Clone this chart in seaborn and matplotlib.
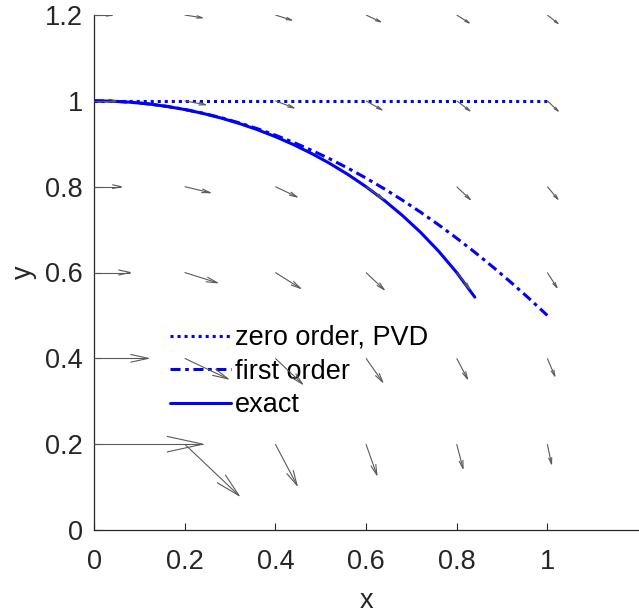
import numpy as np
import pandas as pd
import matplotlib
matplotlib.use('Agg')
import matplotlib.pyplot as plt
from matplotlib.collections import LineCollection
import seaborn as sns

# direction field grid (arrow components in data units, as drawn)
grid_x = [0.0, 0.2, 0.4, 0.6, 0.8, 1.0]
grid_y = [0.2, 0.4, 0.6, 0.8, 1.0, 1.2]
arrow_u = [
    [0.240, 0.120, 0.048, 0.024, 0.0141, 0.0092],
    [0.120, 0.096, 0.060, 0.0369, 0.024, 0.0166],
    [0.080, 0.072, 0.0554, 0.040, 0.0288, 0.0212],
    [0.060, 0.0565, 0.048, 0.0384, 0.030, 0.0234],
    [0.048, 0.0462, 0.0414, 0.0353, 0.0293, 0.024],
    [0.040, 0.0389, 0.036, 0.032, 0.0277, 0.0236],
]
arrow_v = [
    [0.0, -0.120, -0.096, -0.072, -0.0565, -0.0462],
    [0.0, -0.048, -0.060, -0.0554, -0.048, -0.0414],
    [0.0, -0.024, -0.0369, -0.040, -0.0384, -0.0353],
    [0.0, -0.0141, -0.024, -0.0288, -0.030, -0.0293],
    [0.0, -0.0092, -0.0166, -0.0212, -0.0234, -0.024],
    [0.0, -0.0065, -0.012, -0.016, -0.0185, -0.0197],
]

# curves
zero_x = [0.0, 1.0]
zero_y = [1.0, 1.0]

first_x = [0.00, 0.04, 0.08, 0.12, 0.16, 0.20, 0.24, 0.28, 0.32, 0.36, 0.40, 0.44, 0.48,
           0.52, 0.56, 0.60, 0.64, 0.68, 0.72, 0.76, 0.80, 0.84, 0.88, 0.92, 0.96, 1.00]
first_y = [1.0000, 0.9992, 0.9968, 0.9928, 0.9872, 0.9800, 0.9712, 0.9608, 0.9488, 0.9352,
           0.9200, 0.9032, 0.8848, 0.8648, 0.8432, 0.8200, 0.7952, 0.7688, 0.7408, 0.7112,
           0.6800, 0.6472, 0.6128, 0.5768, 0.5392, 0.5000]

exact_x = [0.00, 0.04, 0.08, 0.12, 0.16, 0.20, 0.24, 0.28, 0.32, 0.36, 0.40,
           0.44, 0.48, 0.52, 0.56, 0.60, 0.64, 0.68, 0.72, 0.76, 0.80, 0.84]
exact_y = [1.0000, 0.9992, 0.9968, 0.9928, 0.9871, 0.9798, 0.9708, 0.9600, 0.9474, 0.9330,
           0.9165, 0.8980, 0.8773, 0.8542, 0.8285, 0.8000, 0.7684, 0.7332, 0.6940, 0.6499,
           0.6000, 0.5426]

sns.set_theme(style='ticks')
plt.rcParams['font.family'] = ['Liberation Sans', 'DejaVu Sans']
plt.rcParams['xtick.direction'] = 'in'
plt.rcParams['ytick.direction'] = 'in'

fig = plt.figure(figsize=(6.39, 6.16), dpi=100)
ax = fig.add_axes([94 / 639, 86 / 616, 544 / 639, 515 / 616])

blue = '#0000ff'
lw = 2.2
fs = 19.5
sns.lineplot(x=zero_x, y=zero_y, ax=ax, color=blue, lw=lw, label='zero order, PVD',
             estimator=None, sort=False)
sns.lineplot(x=first_x, y=first_y, ax=ax, color=blue, lw=lw, label='first order',
             estimator=None, sort=False)
sns.lineplot(x=exact_x, y=exact_y, ax=ax, color=blue, lw=lw, label='exact',
             estimator=None, sort=False)
ax.lines[0].set_dashes((1.0, 1.3))
ax.lines[0].set_dash_capstyle('butt')
ax.lines[1].set_dashes((3.3, 1.5, 1.2, 1.5))
ax.lines[1].set_dash_capstyle('butt')

# quiver-style arrows with open heads
X, Y = np.meshgrid(grid_x, grid_y)
U = np.array(arrow_u)
V = np.array(arrow_v)
segs = []
alpha, beta = 0.33, 0.23
for x0, y0, u, v in zip(X.ravel(), Y.ravel(), U.ravel(), V.ravel()):
    tx, ty = x0 + u, y0 + v
    segs.append([(x0, y0), (tx, ty)])
    segs.append([(tx - alpha * (u + beta * v), ty - alpha * (v - beta * u)), (tx, ty),
                 (tx - alpha * (u - beta * v), ty - alpha * (v + beta * u))])
ax.add_collection(LineCollection(segs, colors='#5a5a5a', linewidths=0.8, zorder=5))

ax.set_xlim(0, 1.2)
ax.set_ylim(0, 1.2)
ax.set_xticks([0, 0.2, 0.4, 0.6, 0.8, 1])
ax.set_xticklabels(['0', '0.2', '0.4', '0.6', '0.8', '1'])
ax.set_yticks([0, 0.2, 0.4, 0.6, 0.8, 1, 1.2])
ax.set_yticklabels(['0', '0.2', '0.4', '0.6', '0.8', '1', '1.2'])
ax.tick_params(labelsize=fs, length=5, width=0.8, color='#262626', labelcolor='#262626')
ax.tick_params(axis='x', pad=14)
ax.tick_params(axis='y', pad=8)
for side in ['top', 'right']:
    ax.spines[side].set_visible(False)
for side in ['left', 'bottom']:
    ax.spines[side].set_color('#262626')
    ax.spines[side].set_linewidth(0.9)

ax.set_xlabel('x', fontsize=fs, color='#262626', labelpad=9)
ax.set_ylabel('y', fontsize=fs, color='#262626', labelpad=6)

leg = ax.legend(loc='upper left', bbox_to_anchor=(76 / 544, 205 / 515), frameon=False,
                fontsize=fs, handlelength=2.25, handletextpad=0.15, labelspacing=0.28,
                borderpad=0, borderaxespad=0, labelcolor='black')
leg.set_zorder(2)

plt.savefig('out.png', dpi=100)
plt.close()
